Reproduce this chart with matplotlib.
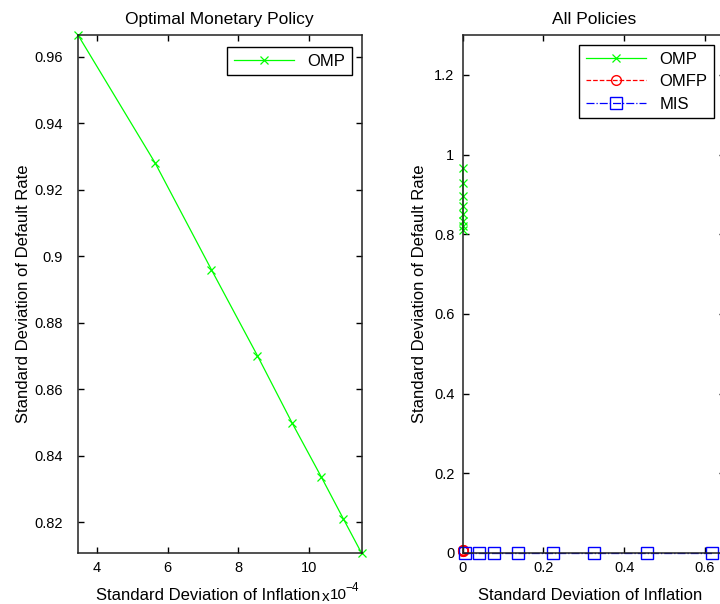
import matplotlib
matplotlib.use('Agg')
import matplotlib.pyplot as plt
from matplotlib.ticker import FuncFormatter

plt.rcParams['font.family'] = ['Liberation Sans', 'DejaVu Sans']
plt.rcParams['font.size'] = 12

# Optimal monetary policy (x in units of 1e-4)
omp_x = [3.46, 5.64, 7.24, 8.54, 9.53, 10.35, 10.98, 11.49]
omp_y = [0.9666, 0.9282, 0.8960, 0.8702, 0.8498, 0.8337, 0.8210, 0.8108]

# other policies
omfp_x = [0.0, 0.0004, 0.0008, 0.0012]
omfp_y = [0.008, 0.007, 0.006, 0.005]
mis_x = [0.005, 0.040, 0.077, 0.138, 0.225, 0.326, 0.457, 0.617]
mis_y = [0.0, 0.0, 0.0, 0.0, 0.0, 0.0, 0.0, 0.0]

left_xticks = [4, 6, 8, 10]
left_yticks = [0.82, 0.84, 0.86, 0.88, 0.90, 0.92, 0.94, 0.96]
right_xticks = [0, 0.2, 0.4, 0.6]
right_yticks = [0, 0.2, 0.4, 0.6, 0.8, 1.0, 1.2]

W, H = 720, 604
fig = plt.figure(figsize=(W / 100, H / 100), dpi=100)
fmt = FuncFormatter(lambda v, p: '%g' % v)

def style(ax, ypad):
    ax.tick_params(direction='in', top=True, right=True, length=4.5, width=1,
                   colors='black', labelsize=10.5)
    ax.tick_params(axis='x', pad=6)
    ax.tick_params(axis='y', pad=ypad)
    for s in ax.spines.values():
        s.set_linewidth(1.1)
        s.set_color('#222222')
    ax.xaxis.set_major_formatter(fmt)
    ax.yaxis.set_major_formatter(fmt)

# left panel
ax1 = fig.add_axes([78 / W, (H - 553) / H, (361.5 - 78) / W, (553 - 35) / H])
ax1.plot(omp_x, omp_y, color=(0, 1, 0), lw=0.9, marker='x', ms=6, mew=0.9,
         label='OMP', clip_on=False)
ax1.set_xlim(min(omp_x), max(omp_x))
ax1.set_ylim(min(omp_y), max(omp_y))
ax1.set_xticks(left_xticks)
ax1.set_yticks(left_yticks)
ax1.set_title('Optimal Monetary Policy', fontsize=12.5, pad=8)
ax1.set_xlabel('Standard Deviation of Inflation')
ax1.xaxis.set_label_coords(0.458, -0.068)
ax1.set_ylabel('Standard Deviation of Default Rate', labelpad=2)
style(ax1, 11)
leg1 = ax1.legend(loc='upper right', fancybox=False, edgecolor='black', framealpha=1,
                  handlelength=3.6, borderaxespad=0, borderpad=0.4,
                  bbox_to_anchor=(352 / W, (H - 47) / H), bbox_transform=fig.transFigure)
leg1.get_frame().set_linewidth(1)
fig.text(322 / W, (H - 601) / H, 'x', fontsize=11)
fig.text(330 / W, (H - 599) / H, '10', fontsize=11)
fig.text(345 / W, (H - 591) / H, '\u22124', fontsize=8.5)

# right panel (extends past the figure edge as in the original)
ax2 = fig.add_axes([462.7 / W, (H - 553) / H, (725 - 462.7) / W, (553 - 35) / H])
ax2.plot([v * 1e-4 for v in omp_x], omp_y, color=(0, 1, 0), lw=0.9, marker='x', ms=6, mew=0.9,
         label='OMP', clip_on=False)
ax2.plot(omfp_x, omfp_y, color=(1, 0, 0), lw=0.9, ls='--', marker='o', ms=7, mfc='none', mew=1,
         label='OMFP', clip_on=False)
ax2.plot(mis_x, mis_y, color=(0, 0, 1), lw=0.9, ls='-.', marker='s', ms=8.5, mfc='none', mew=1,
         label='MIS', clip_on=False)
ax2.set_xlim(0, 0.65)
ax2.set_ylim(0, 1.3)
ax2.set_xticks(right_xticks)
ax2.set_yticks(right_yticks)
ax2.set_title('All Policies', fontsize=12.5, pad=8)
ax2.set_xlabel('Standard Deviation of Inflation')
ax2.xaxis.set_label_coords(0.485, -0.068)
ax2.set_ylabel('Standard Deviation of Default Rate', labelpad=5)
style(ax2, 6)
leg2 = ax2.legend(loc='upper right', fancybox=False, edgecolor='black', framealpha=1,
                  handlelength=3.6, borderaxespad=0, borderpad=0.4, labelspacing=0.45,
                  bbox_to_anchor=(714 / W, (H - 45) / H), bbox_transform=fig.transFigure)
leg2.get_frame().set_linewidth(1)

fig.savefig('out.png', dpi=100)
